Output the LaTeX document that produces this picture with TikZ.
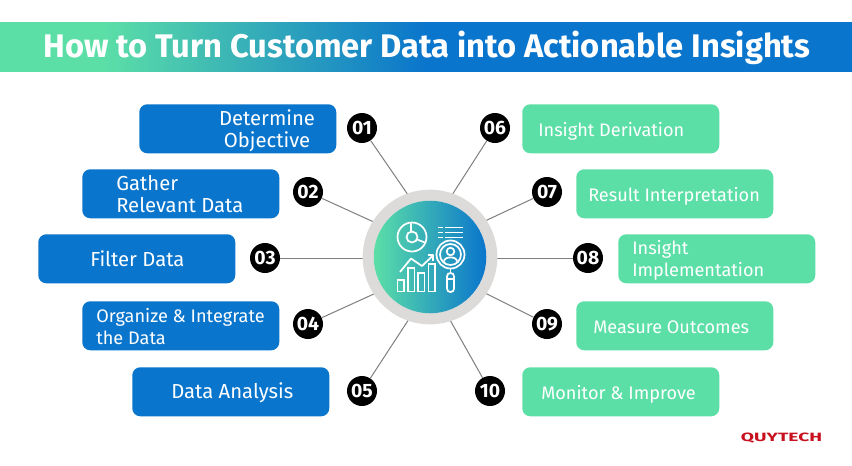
\documentclass[tikz,border=0pt]{standalone}
\usepackage{fontspec}
\setmainfont{Fira Sans}
\usetikzlibrary{shadings}
\definecolor{qgreen}{HTML}{5CDFA7}
\definecolor{qblue}{HTML}{0A75CC}
\definecolor{qring}{HTML}{DCDBDA}
\definecolor{qline}{HTML}{7F7F7F}
\definecolor{qred}{HTML}{C8101E}
\pgfdeclarehorizontalshading{bandshade}{100bp}{color(0bp)=(qgreen); color(31bp)=(qgreen); color(50bp)=(qblue); color(100bp)=(qblue)}
\tikzset{
  x=0.75pt,y=-0.75pt,
  bluebox/.style={fill=qblue,rounded corners=6pt,minimum width=147.75pt,minimum height=36.75pt,inner sep=0pt},
  greenbox/.style={bluebox,fill=qgreen},
  biglabel/.style={text=white,inner sep=0pt,font=\fontsize{15.2}{16.5}\selectfont,align=left},
  smalllabel/.style={text=white,inner sep=0pt,font=\fontsize{13.6}{16.5}\selectfont,align=left},
  numdot/.style={circle,fill=black,minimum size=22.5pt,inner sep=0pt,text=white,font=\fontsize{14.5}{15}\selectfont\bfseries},
  spoke/.style={draw=qline,line width=0.75pt},
  icon/.style={draw=white,line width=1.3pt,fill=none},
}
\begin{document}
\begin{tikzpicture}
\useasboundingbox (0,0) rectangle (852,465);
\fill[white] (0,0) rectangle (852,465);
% title band
\path[shading=bandshade,shading angle=0] (0,22) rectangle (852,71);
\node[text=white,inner sep=0pt,font=\fontsize{24.5}{26}\selectfont\bfseries] (title) at (427,48) {How to Turn Customer Data into Actionable Insights};
% hub
\coordinate (hub) at (430,257);
% boxes
\node[bluebox,anchor=north west] (b1) at (139,104) {};
\node[bluebox,anchor=north west] (b2) at (82,169) {};
\node[bluebox,anchor=north west] (b3) at (38,234) {};
\node[bluebox,anchor=north west] (b4) at (82,301) {};
\node[bluebox,anchor=north west] (b5) at (132,367) {};
\node[greenbox,anchor=north west] (b6) at (522,104) {};
\node[greenbox,anchor=north west] (b7) at (576,169) {};
\node[greenbox,anchor=north west] (b8) at (618,234) {};
\node[greenbox,anchor=north west] (b9) at (576,301) {};
\node[greenbox,anchor=north west] (b10) at (522,367) {};
% labels
\node[biglabel,align=center] (t1) at (267,131) {Determine\\Objective};
\node[biglabel,anchor=west] (t2) at (116,194) {Gather\\Relevant Data};
\node[biglabel,anchor=west] (t3) at (90,259) {Filter Data};
\node[smalllabel,anchor=west] (t4) at (96,327) {Organize \& Integrate\\the Data};
\node[biglabel,anchor=west] (t5) at (171,393) {Data Analysis};
\node[smalllabel,anchor=west] (t6) at (538,131) {Insight Derivation};
\node[smalllabel,anchor=west] (t7) at (588,196) {Result Interpretation};
\node[smalllabel,anchor=west] (t8) at (632,260) {Insight\\Implementation};
\node[smalllabel,anchor=west] (t9) at (593,327) {Measure Outcomes};
\node[smalllabel,anchor=west] (t10) at (541,394) {Monitor \& Improve};
% number dots
\node[numdot] (n1) at (362,128) {01};
\node[numdot] (n2) at (308,192) {02};
\node[numdot] (n3) at (265,258) {03};
\node[numdot] (n4) at (308,324) {04};
\node[numdot] (n5) at (362,391) {05};
\node[numdot] (n6) at (495,128) {06};
\node[numdot] (n7) at (547,192) {07};
\node[numdot] (n8) at (588,258) {08};
\node[numdot] (n9) at (547,324) {09};
\node[numdot] (n10) at (490,391) {10};
% spoke ends on the ring
\coordinate (e1) at (415,205);
\coordinate (e2) at (376,223);
\coordinate (e3) at (365,258);
\coordinate (e4) at (376,293);
\coordinate (e5) at (409,319);
\coordinate (e6) at (452,195);
\coordinate (e7) at (485,221);
\coordinate (e8) at (496,258);
\coordinate (e9) at (485,293);
\coordinate (e10) at (450,320);
\foreach \i in {1,...,10} \draw[spoke] (n\i) -- (e\i);
% ring and disc
\fill[qring] (hub) circle[radius=50.5pt];
\shade[left color=qgreen,right color=qblue] (hub) circle[radius=42.2pt];
% icon: pie chart
\draw[icon] (412,237) circle[radius=14.5];
\draw[icon] (412,237) circle[radius=5.5];
\draw[icon] (411,222.5) -- (411,231.5) (417.2,239.5) -- (426,243);
% icon: list
\draw[icon] (438,227.5) -- (443,227.5) (445,227.5) -- (463,227.5)
            (438,232.5) -- (443,232.5) (445,232.5) -- (463,232.5)
            (438,237.5) -- (443,237.5) (445,237.5) -- (463,237.5);
% icon: bars
\draw[icon] (397.5,280) rectangle (404,291.5);
\draw[icon] (408,268) rectangle (414.5,291.5);
\draw[icon] (418,273) rectangle (424.5,291.5);
\draw[icon] (428.5,264) rectangle (435,291.5);
% icon: arrow
\draw[icon,line join=round] (400,272) -- (411,258.5) -- (422,266) -- (433,255.5);
\draw[icon,line join=round] (427.5,255) -- (433,255) -- (433,261);
% icon: magnifier
\draw[icon] (450.5,254.5) circle[radius=14];
\draw[icon] (450.5,254.5) circle[radius=10.5];
\draw[icon] (450.5,251.5) circle[radius=3.8];
\draw[icon] (444,261.5) .. controls (444,256) and (457,256) .. (457,261.5);
\draw[icon] (450.5,268.5) -- (450.5,273);
\draw[icon,rounded corners=2.5pt] (447,273) rectangle (454,292);
\draw[icon] (447,279) -- (454,279);
% logo
\node[text=qred,inner sep=0pt,xscale=1.6,font=\fontsize{9}{10}\selectfont\bfseries] (logo) at (781.5,438) {QUYTECH};
\end{tikzpicture}
\end{document}
